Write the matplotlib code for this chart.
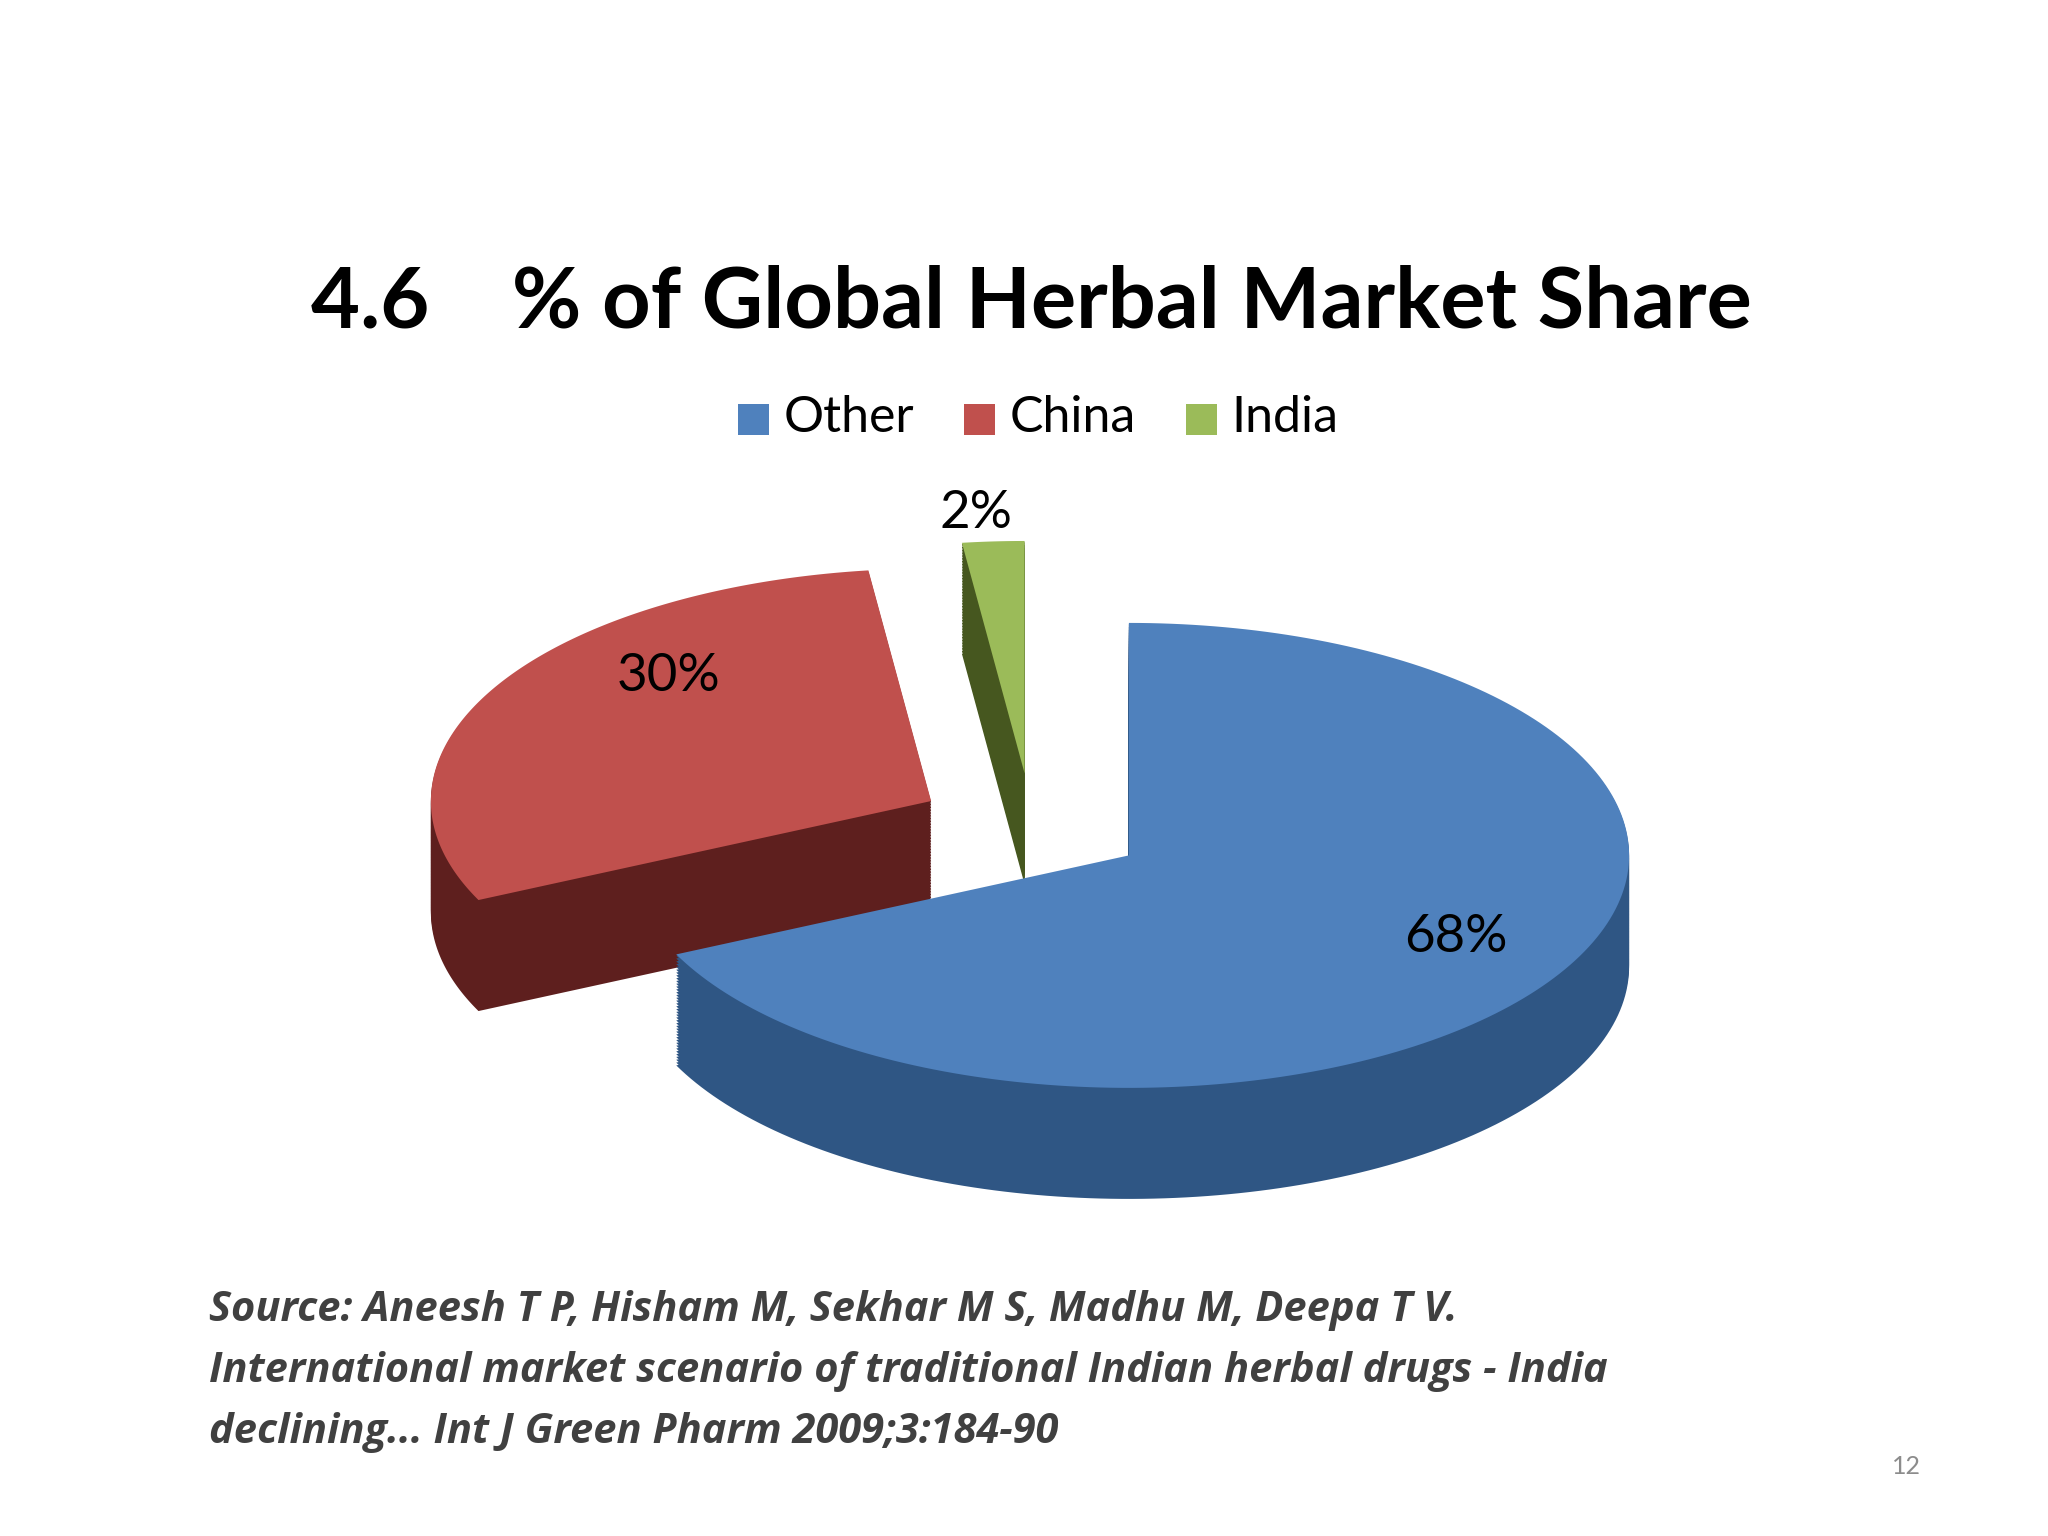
import numpy as np
import matplotlib.pyplot as plt
from matplotlib.patches import Polygon, Rectangle

labels = ['Other', 'China', 'India']
shares = [68, 30, 2]
top_colors = ['#4F81BD', '#C0504D', '#9BBB59']
side_colors = ['#2F5684', '#5E1F1E', '#46571F']

fig = plt.figure(figsize=(20.48, 15.36), dpi=100)
ax = fig.add_axes([0, 0, 1, 1])
ax.set_xlim(0, 1568)
ax.set_ylim(1176, 0)
ax.axis('off')

# pie geometry (in reference pixel units)
cx, cy = 790, 633
rx, ry = 383, 178
depth = 85
explode = 88

def face(a0, a1, ox, oy):
    t = np.linspace(np.radians(a0), np.radians(a1), 200)
    xs = np.concatenate([[ox], ox + rx * np.cos(t)])
    ys = np.concatenate([[oy], oy - ry * np.sin(t)])
    return np.column_stack([xs, ys])

start = 90.0
wedges = []
for i, s in enumerate(shares):
    span = s / 100 * 360
    a1, a0 = start, start - span
    mid = np.radians((a0 + a1) / 2)
    ox = cx + explode * np.cos(mid)
    oy = cy - explode * ry / rx * np.sin(mid)
    wedges.append((i, a0, a1, ox, oy))
    start = a0

# draw back slices first
for i, a0, a1, ox, oy in sorted(wedges, key=lambda w: w[4]):
    pts = face(a0, a1, ox, oy)
    for d in np.linspace(depth, 1, 40):
        ax.add_patch(Polygon(pts + [0, d], closed=True, fc=side_colors[i], ec='none'))
    ax.add_patch(Polygon(pts, closed=True, fc=top_colors[i], ec='none'))

ax.text(1115, 718, '68%', fontsize=38, ha='center', va='center', family='Lato')
ax.text(512, 518, '30%', fontsize=38, ha='center', va='center', family='Lato')
ax.text(747, 393, '2%', fontsize=38, ha='center', va='center', family='Lato')

ax.text(790, 232, '4.6    % of Global Herbal Market Share', fontsize=61, fontweight='bold',
        ha='center', va='center', family='Lato')

# legend
lx = [565, 738, 908]
for i, lab in enumerate(labels):
    ax.add_patch(Rectangle((lx[i], 309), 24, 24, fc=top_colors[i], ec='none'))
    ax.text(lx[i] + 35, 320, lab, fontsize=36, ha='left', va='center', family='Lato')

src = ['Source: Aneesh T P, Hisham M, Sekhar M S, Madhu M, Deepa T V.',
       'International market scenario of traditional Indian herbal drugs - India',
       'declining... Int J Green Pharm 2009;3:184-90']
for k, line in enumerate(src):
    ax.text(160, 1003 + 47 * k, line, fontsize=30, fontweight='bold', fontstyle='italic',
            color='#404040', ha='left', va='center', family='Open Sans')
ax.text(1460, 1123, '12', fontsize=18, color='#8C8C8C', ha='center', va='center', family='Lato')

fig.savefig('out.png')
